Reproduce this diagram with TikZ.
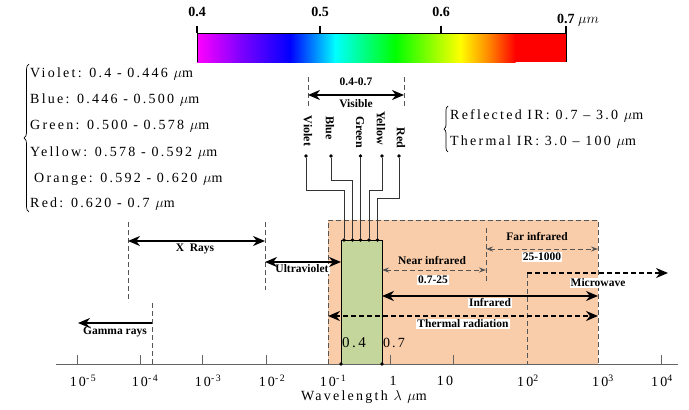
\documentclass[tikz,border=0pt]{standalone}
\usepackage{fontspec}
\setmainfont{Liberation Serif}
\newfontfamily\listfont[LetterSpace=16]{Liberation Serif}
\usetikzlibrary{arrows.meta,decorations.pathreplacing}

\definecolor{peach}{RGB}{250,205,170}
\definecolor{leaf}{RGB}{196,214,155}
\definecolor{dashgray}{RGB}{85,85,85}
\definecolor{axisgray}{RGB}{100,100,100}
\definecolor{cMag}{RGB}{255,0,255}
\definecolor{cVio}{RGB}{128,0,255}
\definecolor{cBlu}{RGB}{0,0,255}
\definecolor{cCya}{RGB}{0,255,255}
\definecolor{cGre}{RGB}{0,255,0}
\definecolor{cYel}{RGB}{255,255,0}
\definecolor{cOra}{RGB}{255,128,0}
\definecolor{cRed}{RGB}{255,0,0}

\tikzset{
  bigtip/.tip={Stealth[length=12pt,width=10pt]},
  smalltip/.tip={Stealth[length=7pt,width=5pt]},
  lbl/.style={font=\bfseries\fontsize{11.5}{12}\selectfont, inner sep=1pt},
  wlbl/.style={lbl, fill=white},
  colname/.style={font=\bfseries\fontsize{12}{12}\selectfont, rotate=-90, inner sep=0pt},
  listtxt/.style={font=\listfont\fontsize{14}{16}\selectfont, anchor=west, inner sep=0pt},
  ticklbl/.style={font=\listfont\fontsize{14}{16}\selectfont, inner sep=0pt},
  guide/.style={dashgray, line width=0.9pt, dash pattern=on 5pt off 3pt},
  band/.style={line width=2.4pt, bigtip-bigtip},
  dband/.style={band, dash pattern=on 5pt off 3pt},
  thinband/.style={guide, smalltip-smalltip},
  dot/.style={circle, fill=black, inner sep=0pt, minimum size=3.6pt},
  wire/.style={line width=0.9pt, black!80},
}

\begin{document}
\begin{tikzpicture}[x=1pt,y=-1pt]
\useasboundingbox (0,0) rectangle (689,410);

\shade[left color=cMag,right color=cVio] (197,33) rectangle (240.5,62);
\shade[left color=cVio,right color=cBlu] (240,33) rectangle (290.5,62);
\shade[left color=cBlu,right color=cCya] (290,33) rectangle (335.5,62);
\shade[left color=cCya,right color=cGre] (335,33) rectangle (395.5,62);
\shade[left color=cGre,right color=cYel] (395,33) rectangle (460.5,62);
\shade[left color=cYel,right color=cOra] (460,33) rectangle (490.5,62);
\shade[left color=cOra,right color=cRed] (490,33) rectangle (515.5,62);
\fill[cRed] (515,33) rectangle (566,62);
\draw[line width=1pt] (197,62) -- (197,33) -- (566,33) -- (566,62);
\foreach \x in {197,320,441,566}
  \draw[line width=2pt] (\x,33) -- ++(0,-7);
\node[font=\bfseries\fontsize{14}{14}\selectfont] (c4) at (197,12) {0.4};
\node[font=\bfseries\fontsize{14}{14}\selectfont] (c5) at (320,12) {0.5};
\node[font=\bfseries\fontsize{14}{14}\selectfont] (c6) at (441,12) {0.6};
\node[font=\fontsize{14}{14}\selectfont, anchor=west, inner sep=0pt] (c7) at (557,20) {\textbf{0.7} $\mu m$};

\node[listtxt] (lv) at (30,74) {Violet: 0.4 - 0.446 $\mu$m};
\node[listtxt] (lb) at (30,100) {Blue: 0.446 - 0.500 $\mu$m};
\node[listtxt] (lg) at (30,126) {Green: 0.500 - 0.578 $\mu$m};
\node[listtxt] (ly) at (30,153) {Yellow: 0.578 - 0.592 $\mu$m};
\node[listtxt] (lo) at (34,179) {Orange: 0.592 - 0.620 $\mu$m};
\node[listtxt] (lr) at (30,204) {Red: 0.620 - 0.7 $\mu$m};
\draw[decorate, decoration={brace, amplitude=5pt}, line width=0.7pt] (29,212) -- (29,64);

\node[listtxt] (irr) at (450,116) {Reflected IR: 0.7 \textendash\ 3.0 $\mu$m};
\node[listtxt] (irt) at (450,142) {Thermal IR: 3.0 \textendash\ 100 $\mu$m};
\draw[decorate, decoration={brace, amplitude=4pt}, line width=0.7pt] (448,152) -- (448,106);

\draw[fill=peach, draw=dashgray, line width=0.9pt, dash pattern=on 5pt off 3pt] (328,364) -- (328,220) -- (598,220) -- (598,364);
\draw[fill=leaf, line width=1pt] (341,240) rectangle (382,364);
\node[ticklbl, font=\listfont\fontsize{15}{16}\selectfont] (g4) at (354,343) {0.4};
\node[ticklbl] (g7) at (394,343) {0.7};

\draw[guide] (308,77) -- (308,108);
\draw[guide] (404,77) -- (404,108);
\coordinate (visl) at (308,95);
\coordinate (visr) at (404,95);
\draw[line width=2pt, bigtip-bigtip] (visl) -- (visr);
\node[lbl] (vrange) at (356,82) {0.4-0.7};
\node[lbl] (vis) at (356,104) {Visible};

\node[colname] (nv) at (308,131) {Violet};
\node[colname] (nb) at (330,128) {Blue};
\node[colname] (ng) at (360,132) {Green};
\node[colname] (ny) at (381,128) {Yellow};
\node[colname] (nr) at (401,138) {Red};

\node[dot] (tv) at (306,156) {};
\node[dot] (tb) at (331,156) {};
\node[dot] (tg) at (360.5,156) {};
\node[dot] (ty) at (382,156) {};
\node[dot] (tr) at (399,156) {};
\node[dot] (bv) at (344,240) {};
\node[dot] (bb) at (352.5,240) {};
\node[dot] (bg) at (360.5,240) {};
\node[dot] (by) at (369,240) {};
\node[dot] (br) at (377.5,240) {};
\draw[wire] (tv) -- ++(0,34) -| (bv);
\draw[wire] (tb) -- ++(0,24) -| (bb);
\draw[wire] (tg) -- (bg);
\draw[wire] (ty) -- ++(0,34) -| (by);
\draw[wire] (tr) -- ++(0,42) -| (br);

\draw[guide] (128,222) -- (128,302);
\draw[guide] (265,222) -- (265,290);
\draw[guide] (152,303) -- (152,364);
\draw[guide] (486,228) -- (486,282);
\draw[guide] (527,273) -- (527,364);

\node[lbl] (xr) at (195,249) {X\enspace Rays};
\node[wlbl] (uv) at (302,269) {Ultraviolet};
\node[lbl] (gam) at (115,332) {Gamma rays};
\node[lbl] (nir) at (432,261) {Near infrared};
\node[wlbl] (nirr) at (433,280) {0.7-25};
\node[lbl] (fir) at (537,237) {Far infrared};
\node[wlbl] (firr) at (542,257) {25-1000};
\node[wlbl] (mw) at (598,283) {Microwave};
\node[wlbl] (ir) at (490,303) {Infrared};
\node[wlbl] (th) at (463,324) {Thermal radiation};

\coordinate (xl) at (128,241);
\coordinate (xrr) at (265,241);
\coordinate (uvl) at (265,262);
\coordinate (uvr) at (341,262);
\coordinate (gr) at (152,323);
\coordinate (gl) at (78,323);
\coordinate (nl) at (382,270);
\coordinate (nr2) at (486,270);
\coordinate (fl) at (486,249);
\coordinate (fr) at (598,249);
\coordinate (ml) at (527,273);
\coordinate (mr) at (668,273);
\coordinate (il) at (382,296);
\coordinate (ir2) at (598,296);
\coordinate (tl) at (328,316);
\coordinate (tr2) at (598,316);
\draw[band] (xl) -- (xrr);
\draw[line width=2pt, bigtip-bigtip] (uvl) -- (uvr);
\draw[line width=2.4pt, -bigtip] (gr) -- (gl);
\draw[thinband] (nl) -- (nr2);
\draw[thinband] (fl) -- (fr);
\draw[line width=2.4pt, dash pattern=on 5pt off 3pt, -bigtip] (ml) -- (mr);
\draw[band] (il) -- (ir2);
\draw[dband] (tl) -- (tr2);

\draw[axisgray, line width=1pt] (56,364) -- (678,364);
\foreach \x in {77,140,202,266,390,453,661}
  \draw[axisgray, line width=1pt] (\x,364) -- ++(0,-9);
\node[dot] (ax1) at (341,364) {};
\node[dot] (ax2) at (382,364) {};
\foreach \x/\lab [count=\i] in {83/{10\textsuperscript{-5}},145/{10\textsuperscript{-4}},208/{10\textsuperscript{-3}},272/{10\textsuperscript{-2}},333/{10\textsuperscript{-1}},393/{1},445/{10},528/{10\textsuperscript{2}},603/{10\textsuperscript{3}},662/{10\textsuperscript{4}}}
  \node[ticklbl] (tk\i) at (\x,381) {\lab};
\node[ticklbl] (wl) at (364,397) {Wavelength $\lambda$ $\mu$m};
\end{tikzpicture}
\end{document}
